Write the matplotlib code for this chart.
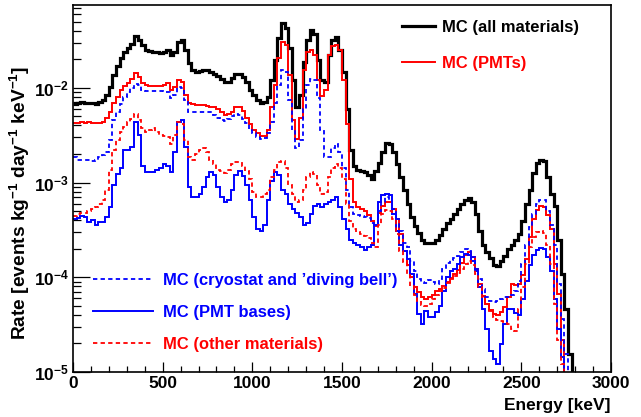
import numpy as np
import matplotlib
matplotlib.use('Agg')
import matplotlib.pyplot as plt
from matplotlib.ticker import MultipleLocator, LogLocator, NullFormatter

# energy binning: 150 bins of 20 keV from 0 to 3000 keV
bin_edges = np.linspace(0, 3000, 151)

# rate [events / kg / day / keV] per bin
all_materials = [
    6.8e-3, 6.95e-3, 7.1e-3, 6.95e-3, 6.95e-3, 6.95e-3, 6.8e-3, 7.1e-3, 7.5e-3, 8.4e-3,
    1.03e-2, 1.37e-2, 1.71e-2, 2.07e-2, 2.40e-2, 2.64e-2, 2.91e-2, 3.53e-2, 3.20e-2, 2.84e-2,
    2.52e-2, 2.46e-2, 2.40e-2, 2.40e-2, 2.34e-2, 2.40e-2, 2.52e-2, 2.23e-2, 2.40e-2, 3.05e-2,
    3.20e-2, 2.52e-2, 1.84e-2, 1.55e-2, 1.48e-2, 1.51e-2, 1.55e-2, 1.55e-2, 1.48e-2, 1.41e-2,
    1.34e-2, 1.25e-2, 1.16e-2, 1.16e-2, 1.28e-2, 1.41e-2, 1.41e-2, 1.31e-2, 1.16e-2, 9.5e-3,
    8.4e-3, 7.5e-3, 6.95e-3, 7.1e-3, 8.0e-3, 1.22e-2, 1.98e-2, 3.36e-2, 4.84e-2, 4.29e-2,
    2.64e-2, 1.22e-2, 6.3e-3, 8.4e-3, 1.88e-2, 3.20e-2, 4.1e-2, 3.70e-2, 1.98e-2, 1.22e-2,
    1.16e-2, 2.23e-2, 3.20e-2, 3.45e-2, 2.52e-2, 1.48e-2, 5.9e-3, 2.23e-3, 1.48e-3, 1.37e-3,
    1.31e-3, 1.28e-3, 1.19e-3, 1.08e-3, 1.31e-3, 1.59e-3, 2.12e-3, 2.64e-3, 2.58e-3, 2.12e-3,
    1.55e-3, 1.13e-3, 8.4e-4, 5.9e-4, 4.3e-4, 3.5e-4, 2.9e-4, 2.5e-4, 2.3e-4, 2.3e-4,
    2.3e-4, 2.5e-4, 2.8e-4, 3.2e-4, 3.7e-4, 4.1e-4, 4.6e-4, 5.3e-4, 6.0e-4, 6.5e-4,
    6.8e-4, 6.2e-4, 4.6e-4, 3.05e-4, 2.2e-4, 1.84e-4, 1.59e-4, 1.34e-4, 1.31e-4, 1.48e-4,
    1.67e-4, 1.98e-4, 2.2e-4, 2.46e-4, 2.84e-4, 3.9e-4, 5.9e-4, 8.4e-4, 1.25e-3, 1.59e-3,
    1.75e-3, 1.67e-3, 1.13e-3, 7.5e-4, 5.6e-4, 2.5e-4, 1.08e-4, 4.6e-5, 1.55e-5, 0.0,
    0.0, 0.0, 0.0, 0.0, 0.0, 0.0, 0.0, 0.0, 0.0, 0.0,
]

pmts = [
    4.3e-3, 4.3e-3, 4.4e-3, 4.2e-3, 4.4e-3, 4.3e-3, 4.2e-3, 4.3e-3, 4.4e-3, 4.8e-3,
    5.6e-3, 6.95e-3, 8.0e-3, 9.5e-3, 1.05e-2, 1.13e-2, 1.25e-2, 1.44e-2, 1.31e-2, 1.13e-2,
    1.08e-2, 1.05e-2, 1.05e-2, 1.05e-2, 1.05e-2, 1.08e-2, 1.13e-2, 9.5e-3, 1.02e-2, 1.22e-2,
    1.16e-2, 8.4e-3, 6.95e-3, 6.8e-3, 6.6e-3, 6.6e-3, 6.6e-3, 6.5e-3, 6.3e-3, 6.2e-3,
    5.9e-3, 5.5e-3, 5.2e-3, 5.3e-3, 5.6e-3, 6.2e-3, 6.2e-3, 5.7e-3, 4.8e-3, 4.1e-3,
    3.6e-3, 3.3e-3, 3.1e-3, 3.1e-3, 3.6e-3, 6.2e-3, 1.08e-2, 2.07e-2, 3.05e-2, 2.84e-2,
    1.37e-2, 4.6e-3, 2.9e-3, 4.8e-3, 1.55e-2, 2.40e-2, 2.52e-2, 2.23e-2, 1.22e-2, 8.2e-3,
    9.5e-3, 2.23e-2, 2.77e-2, 2.84e-2, 2.52e-2, 1.22e-2, 4.1e-3, 1.08e-3, 6.2e-4, 5.5e-4,
    5.2e-4, 5.0e-4, 4.5e-4, 3.9e-4, 3.5e-4, 4.8e-4, 5.7e-4, 6.3e-4, 6.3e-4, 5.2e-4,
    4.1e-4, 2.84e-4, 1.88e-4, 1.34e-4, 1.0e-4, 7.85e-5, 6.95e-5, 6.2e-5, 5.9e-5, 6.2e-5,
    6.5e-5, 7.1e-5, 7.5e-5, 8.0e-5, 8.9e-5, 9.8e-5, 1.08e-4, 1.19e-4, 1.41e-4, 1.71e-4,
    1.84e-4, 1.63e-4, 1.22e-4, 8.4e-5, 6.3e-5, 5.2e-5, 4.5e-5, 4.1e-5, 4.0e-5, 4.3e-5,
    4.8e-5, 6.2e-5, 8.4e-5, 8.2e-5, 8.4e-5, 1.05e-4, 1.55e-4, 2.64e-4, 4.1e-4, 5.1e-4,
    5.6e-4, 5.5e-4, 4.5e-4, 3.2e-4, 1.37e-4, 6.6e-5, 2.2e-5, 0.0, 0.0, 0.0,
    0.0, 0.0, 0.0, 0.0, 0.0, 0.0, 0.0, 0.0, 0.0, 0.0,
]

cryostat_bell = [
    1.84e-3, 1.75e-3, 1.75e-3, 1.75e-3, 1.71e-3, 1.67e-3, 1.75e-3, 1.84e-3, 1.93e-3, 2.12e-3,
    2.84e-3, 4.6e-3, 5.6e-3, 6.8e-3, 8.0e-3, 9.1e-3, 1.0e-2, 1.10e-2, 1.08e-2, 9.5e-3,
    9.3e-3, 9.3e-3, 9.3e-3, 9.3e-3, 9.3e-3, 9.1e-3, 9.1e-3, 7.85e-3, 8.4e-3, 1.02e-2,
    1.0e-2, 7.5e-3, 5.6e-3, 5.6e-3, 5.5e-3, 5.6e-3, 5.5e-3, 5.5e-3, 5.5e-3, 5.2e-3,
    4.8e-3, 4.6e-3, 4.5e-3, 4.7e-3, 5.0e-3, 5.3e-3, 5.2e-3, 4.7e-3, 4.2e-3, 3.6e-3,
    3.3e-3, 3.05e-3, 2.9e-3, 2.98e-3, 3.3e-3, 4.4e-3, 6.95e-3, 1.08e-2, 1.55e-2, 1.48e-2,
    7.5e-3, 3.6e-3, 2.29e-3, 2.84e-3, 5.9e-3, 1.08e-2, 1.25e-2, 1.22e-2, 7.85e-3, 3.6e-3,
    1.84e-3, 1.88e-3, 2.34e-3, 2.52e-3, 2.12e-3, 1.44e-3, 8.4e-4, 5.5e-4, 4.7e-4, 4.5e-4,
    4.4e-4, 4.3e-4, 4.2e-4, 3.7e-4, 3.6e-4, 5.0e-4, 6.2e-4, 6.95e-4, 6.6e-4, 5.2e-4,
    4.1e-4, 3.05e-4, 2.3e-4, 2.07e-4, 1.48e-4, 1.16e-4, 9.5e-5, 8.9e-5, 8.65e-5, 9.3e-5,
    8.9e-5, 8.4e-5, 9.5e-5, 1.22e-4, 1.41e-4, 1.51e-4, 1.59e-4, 1.67e-4, 1.84e-4, 1.98e-4,
    1.88e-4, 1.63e-4, 1.22e-4, 9.5e-5, 7.5e-5, 6.2e-5, 5.6e-5, 5.5e-5, 5.6e-5, 5.9e-5,
    6.2e-5, 6.2e-5, 6.5e-5, 7.1e-5, 9.1e-5, 1.37e-4, 2.2e-4, 3.4e-4, 4.7e-4, 5.9e-4,
    6.6e-4, 6.6e-4, 5.0e-4, 3.6e-4, 2.2e-4, 8.4e-5, 3.6e-5, 1.55e-5, 0.0, 0.0,
    0.0, 0.0, 0.0, 0.0, 0.0, 0.0, 0.0, 0.0, 0.0, 0.0,
]

pmt_bases = [
    4.1e-4, 4.2e-4, 4.4e-4, 4.3e-4, 3.8e-4, 4.0e-4, 3.6e-4, 3.8e-4, 3.8e-4, 4.3e-4,
    5.5e-4, 9.5e-4, 1.22e-3, 1.44e-3, 2.23e-3, 2.23e-3, 2.40e-3, 4.4e-3, 3.2e-3, 1.48e-3,
    1.28e-3, 1.28e-3, 1.28e-3, 1.34e-3, 1.44e-3, 1.55e-3, 1.48e-3, 1.28e-3, 2.12e-3, 4.4e-3,
    4.6e-3, 2.40e-3, 8.9e-4, 6.95e-4, 6.95e-4, 7.5e-4, 8.9e-4, 1.13e-3, 1.28e-3, 1.19e-3,
    8.9e-4, 6.95e-4, 6.2e-4, 6.6e-4, 8.4e-4, 1.19e-3, 1.31e-3, 1.16e-3, 9.5e-4, 6.6e-4,
    4.3e-4, 3.2e-4, 3.05e-4, 3.6e-4, 6.6e-4, 1.03e-3, 1.28e-3, 1.19e-3, 8.4e-4, 7.5e-4,
    5.9e-4, 5.2e-4, 4.8e-4, 4.3e-4, 3.6e-4, 3.7e-4, 4.7e-4, 5.6e-4, 5.9e-4, 5.5e-4,
    6.0e-4, 6.3e-4, 6.6e-4, 6.95e-4, 5.5e-4, 4.1e-4, 3.2e-4, 2.5e-4, 2.3e-4, 2.18e-4,
    2.07e-4, 1.93e-4, 2.07e-4, 2.2e-4, 3.6e-4, 6.2e-4, 7.3e-4, 7.5e-4, 7.3e-4, 4.6e-4,
    3.05e-4, 2.2e-4, 1.88e-4, 1.55e-4, 1.08e-4, 6.6e-5, 4.1e-5, 3.2e-5, 4.4e-5, 3.8e-5,
    3.8e-5, 4.3e-5, 5.0e-5, 7.1e-5, 1.0e-4, 1.16e-4, 1.22e-4, 1.37e-4, 1.63e-4, 1.75e-4,
    1.71e-4, 1.48e-4, 1.16e-4, 7.85e-5, 4.6e-5, 2.84e-5, 1.67e-5, 1.37e-5, 1.22e-5, 1.98e-5,
    3.2e-5, 4.6e-5, 4.6e-5, 4.2e-5, 4.0e-5, 5.9e-5, 9.1e-5, 1.34e-4, 1.71e-4, 1.93e-4,
    2.02e-4, 1.98e-4, 1.63e-4, 1.16e-4, 5.9e-5, 2.84e-5, 1.44e-5, 0.0, 0.0, 0.0,
    0.0, 0.0, 0.0, 0.0, 0.0, 0.0, 0.0, 0.0, 0.0, 0.0,
]

other_materials = [
    4.4e-4, 4.7e-4, 4.8e-4, 4.8e-4, 5.0e-4, 5.2e-4, 5.5e-4, 5.9e-4, 6.6e-4, 8.4e-4,
    1.37e-3, 2.23e-3, 2.84e-3, 3.4e-3, 3.9e-3, 4.4e-3, 4.7e-3, 5.3e-3, 4.6e-3, 3.8e-3,
    3.45e-3, 3.6e-3, 3.8e-3, 3.4e-3, 3.2e-3, 3.1e-3, 3.0e-3, 2.52e-3, 3.2e-3, 4.4e-3,
    4.1e-3, 2.84e-3, 1.88e-3, 1.75e-3, 1.98e-3, 2.23e-3, 2.34e-3, 2.12e-3, 1.75e-3, 1.55e-3,
    1.37e-3, 1.31e-3, 1.25e-3, 1.37e-3, 1.55e-3, 1.63e-3, 1.63e-3, 1.51e-3, 1.31e-3, 1.08e-3,
    8.0e-4, 7.1e-4, 7.1e-4, 7.5e-4, 8.4e-4, 1.13e-3, 1.37e-3, 1.63e-3, 1.67e-3, 1.44e-3,
    9.5e-4, 7.5e-4, 6.3e-4, 6.6e-4, 8.4e-4, 1.13e-3, 1.28e-3, 1.22e-3, 9.5e-4, 7.5e-4,
    8.0e-4, 1.13e-3, 1.44e-3, 1.55e-3, 1.44e-3, 1.08e-3, 5.9e-4, 3.9e-4, 3.2e-4, 3.0e-4,
    2.84e-4, 2.7e-4, 2.58e-4, 2.3e-4, 2.07e-4, 3.6e-4, 4.6e-4, 5.1e-4, 5.0e-4, 4.1e-4,
    2.84e-4, 1.88e-4, 1.44e-4, 1.08e-4, 8.0e-5, 6.5e-5, 5.6e-5, 5.1e-5, 5.0e-5, 5.2e-5,
    5.9e-5, 6.5e-5, 7.1e-5, 7.7e-5, 8.65e-5, 9.5e-5, 1.03e-4, 1.11e-4, 1.22e-4, 1.37e-4,
    1.48e-4, 1.34e-4, 1.08e-4, 7.85e-5, 6.2e-5, 5.2e-5, 4.4e-5, 3.8e-5, 3.5e-5, 3.45e-5,
    3.4e-5, 3.2e-5, 2.84e-5, 2.7e-5, 4.6e-5, 7.85e-5, 1.37e-4, 2.07e-4, 2.64e-4, 3.0e-4,
    3.05e-4, 2.9e-4, 2.2e-4, 1.37e-4, 5.2e-5, 2.2e-5, 1.22e-5, 0.0, 0.0, 0.0,
    0.0, 0.0, 0.0, 0.0, 0.0, 0.0, 0.0, 0.0, 0.0, 0.0,
]

plt.rcParams.update({
    'font.family': 'Liberation Sans',
    'font.weight': 'bold',
    'mathtext.fontset': 'custom',
    'mathtext.rm': 'Liberation Sans:bold',
    'mathtext.bf': 'Liberation Sans:bold',
    'mathtext.it': 'Liberation Sans:bold',
    'mathtext.default': 'rm',
})

fig = plt.figure(figsize=(6.41, 4.17), dpi=100)
ax = fig.add_axes([73 / 641, 45 / 417, 538 / 641, 367 / 417])

dash = (0, (2.4, 1.8))
h_all = ax.stairs(all_materials, bin_edges, baseline=None, color='black', lw=2.3)
h_pmt = ax.stairs(pmts, bin_edges, baseline=None, color='#ff0000', lw=1.4)
h_cry = ax.stairs(cryostat_bell, bin_edges, baseline=None, color='#0000ff', lw=1.3, linestyle=dash)
h_base = ax.stairs(pmt_bases, bin_edges, baseline=None, color='#0000ff', lw=1.4)
h_oth = ax.stairs(other_materials, bin_edges, baseline=None, color='#ff0000', lw=1.3, linestyle=dash)

ax.set_yscale('log', nonpositive='clip')
ax.set_xlim(0, 3000)
ax.set_ylim(1e-5, 0.0748)

ax.xaxis.set_major_locator(MultipleLocator(500))
ax.xaxis.set_minor_locator(MultipleLocator(100))
ax.yaxis.set_major_locator(LogLocator(base=10, numticks=10))
ax.yaxis.set_minor_locator(LogLocator(base=10, subs=np.arange(2, 10), numticks=10))
ax.yaxis.set_minor_formatter(NullFormatter())

ax.tick_params(axis='both', which='both', direction='in', top=False, right=False,
               labelsize=12.5, width=0.9)
ax.tick_params(axis='x', which='major', length=7.5, pad=3)
ax.tick_params(axis='x', which='minor', length=4)
ax.tick_params(axis='y', which='major', length=12, pad=3)
ax.tick_params(axis='y', which='minor', length=6)
for sp in ax.spines.values():
    sp.set_linewidth(1.2)

ax.set_xlabel('Energy [keV]', fontsize=12.5, fontweight='bold')
ax.xaxis.set_label_coords(0.9, -0.072)
ax.set_ylabel('Rate [events kg$^{-1}$ day$^{-1}$ keV$^{-1}$]', fontsize=13.8, fontweight='bold')
ax.yaxis.set_label_coords(-0.077, 0.46)

leg1 = fig.legend([h_all, h_pmt], ['MC (all materials)', 'MC (PMTs)'],
                  loc='upper left', bbox_to_anchor=(402 / 641, 1 - 20 / 417),
                  frameon=False, fontsize=11.9, handlelength=2.0, handletextpad=0.45,
                  labelspacing=1.25, borderpad=0, borderaxespad=0, labelcolor='linecolor')
leg2 = fig.legend([h_cry, h_base, h_oth],
                  ['MC (cryostat and \u2019diving bell\u2019)', 'MC (PMT bases)', 'MC (other materials)'],
                  loc='upper left', bbox_to_anchor=(93 / 641, 1 - 273 / 417),
                  frameon=False, fontsize=11.9, handlelength=3.6, handletextpad=0.65,
                  labelspacing=1.02, borderpad=0, borderaxespad=0, labelcolor='linecolor')

fig.savefig('out.png', dpi=100)
